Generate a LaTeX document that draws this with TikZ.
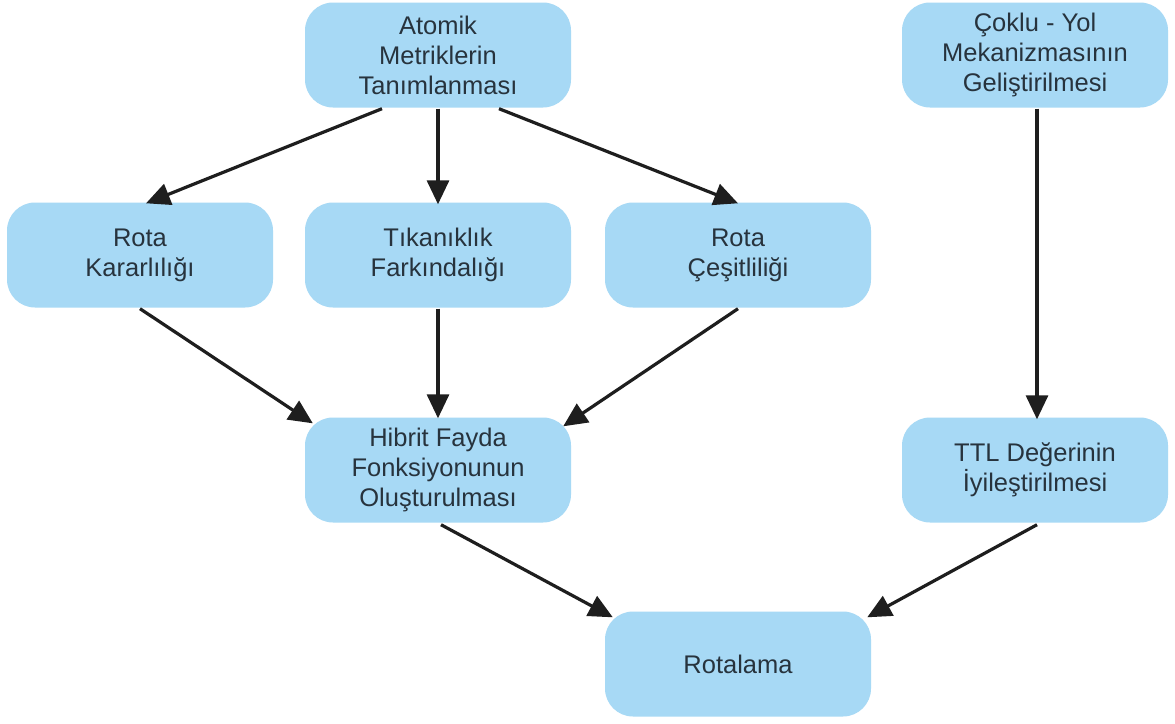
\documentclass[tikz,border=0pt]{standalone}
\usepackage{fontspec}
\setmainfont{Liberation Sans}
\usetikzlibrary{arrows.meta}
\definecolor{boxfill}{HTML}{A7D9F5}
\definecolor{boxtext}{HTML}{27333D}
\definecolor{arrcol}{HTML}{1E1E1E}
\begin{document}
\begin{tikzpicture}[x=1pt,y=-1pt,
  box/.style={fill=boxfill, draw=none, rounded corners=28pt, minimum width=266pt, minimum height=105pt,
    align=center, text=boxtext, font=\fontsize{25.5}{30}\selectfont, inner sep=0pt},
  arr/.style={draw=arrcol, line width=3.2pt, -{Triangle[length=24pt,width=22pt]}}]
\useasboundingbox (0,0) rectangle (1175,723);
\fill[white] (0,0) rectangle (1175,723);
\node[box] (atomik) at (438,55) {Atomik\\Metriklerin\\Tanımlanması};
\node[box] (coklu) at (1035,55) {Çoklu - Yol\\Mekanizmasının\\Geliştirilmesi};
\node[box] (rotak) at (140,255) {Rota\\Kararlılığı};
\node[box] (tikan) at (438,255) {Tıkanıklık\\Farkındalığı};
\node[box] (cesit) at (738,255) {Rota\\Çeşitliliği};
\node[box] (hibrit) at (438,470) {Hibrit Fayda\\Fonksiyonunun\\Oluşturulması};
\node[box] (ttl) at (1035,470) {TTL Değerinin\\İyileştirilmesi};
\node[box] (rotalama) at (738,664) {Rotalama};
\draw[arr] ([xshift=-56pt,yshift=-1pt]atomik.south) -- ([xshift=6pt,yshift=-1pt]rotak.north);
\draw[arr] ([yshift=-1pt]atomik.south) -- ([yshift=-2pt]tikan.north);
\draw[arr] ([xshift=61pt,yshift=-1pt]atomik.south) -- ([yshift=-1pt]cesit.north);
\draw[arr] ([yshift=-1pt]rotak.south) -- ([xshift=8pt,yshift=-6pt]hibrit.north west);
\draw[arr] ([yshift=-1pt]tikan.south) -- ([yshift=-1pt]hibrit.north);
\draw[arr] ([yshift=-1pt]cesit.south) -- ([xshift=-8pt,yshift=-9pt]hibrit.north east);
\draw[arr] ([xshift=2pt,yshift=-1pt]coklu.south) -- ([xshift=2pt,yshift=-2pt]ttl.north);
\draw[arr] ([xshift=3pt,yshift=-2pt]hibrit.south) -- ([xshift=8pt,yshift=-6pt]rotalama.north west);
\draw[arr] ([xshift=2pt,yshift=-2pt]ttl.south) -- ([xshift=-4pt,yshift=-6pt]rotalama.north east);
\end{tikzpicture}
\end{document}
